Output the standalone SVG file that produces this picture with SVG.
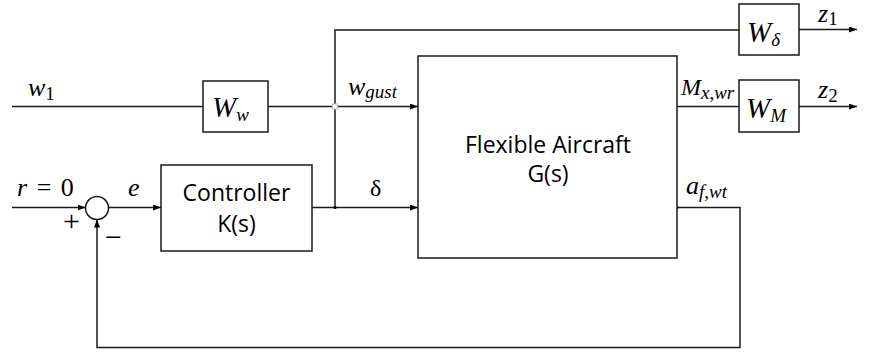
<svg xmlns="http://www.w3.org/2000/svg" width="875" height="352" viewBox="0 0 875 352">
<style>
.box{fill:#fff;stroke:#1a1a1a;stroke-width:1.5}
.ln{fill:none;stroke:#1a1a1a;stroke-width:1.5}
.lbl{font-family:"Open Sans","Liberation Sans",sans-serif;font-size:23px;fill:#000;text-anchor:middle}
.m{font-family:"Liberation Serif","DejaVu Serif",serif;font-style:italic;font-size:26px;fill:#000}
.up{font-style:normal}
.sub{font-size:19px}
.bw{font-size:29px}
</style>
<defs>
<marker id="arr" markerUnits="userSpaceOnUse" markerWidth="8" markerHeight="6" refX="8" refY="3" orient="auto">
<path d="M0,0 L8,3 L0,6 Z" fill="#000"/>
</marker>
</defs>
<rect width="875" height="352" fill="#fff"/>
<g id="connectors">
<path class="ln" d="M12,106.5 H203"/>
<path class="ln" d="M268,106.5 H418" marker-end="url(#arr)"/>
<path class="ln" d="M335,207.5 V30 H739"/>
<path class="ln" d="M12,207.5 H85.5" marker-end="url(#arr)"/>
<path class="ln" d="M108.5,207.5 H161" marker-end="url(#arr)"/>
<path class="ln" d="M312,207.5 H418" marker-end="url(#arr)"/>
<path class="ln" d="M677,106.5 H739"/>
<path class="ln" d="M799,29.5 H857" marker-end="url(#arr)"/>
<path class="ln" d="M799,106.5 H857" marker-end="url(#arr)"/>
<path class="ln" d="M677,207.5 H740 V347.5 H97 V219.5" marker-end="url(#arr)"/>
<rect x="332.5" y="104" width="5" height="5" fill="#fff" stroke="#bbb" stroke-width="1"/>
<circle cx="335" cy="207.5" r="1.6" fill="#000"/>
<circle cx="677" cy="207.5" r="1.6" fill="#000"/>
</g>
<g id="sum">
<circle cx="97" cy="208" r="11.5" class="box"/>
<text x="71.5" y="230.5" class="m up" style="font-size:30px" text-anchor="middle">+</text>
<text x="113.5" y="247" class="m up" style="font-size:30px" text-anchor="middle">−</text>
</g>
<g id="Ww">
<rect class="box" x="203" y="81" width="65" height="51"/>
<text class="m bw" x="212" y="117">W<tspan class="sub" font-size="20" dy="4">w</tspan></text>
</g>
<g id="controller">
<rect class="box" x="161" y="165" width="151" height="86"/>
<text class="lbl" x="236.5" y="201">Controller</text>
<text class="lbl" x="236.5" y="232">K(s)</text>
</g>
<g id="aircraft">
<rect class="box" x="418" y="56" width="259" height="202"/>
<text class="lbl" x="548" y="153">Flexible Aircraft</text>
<text class="lbl" x="548" y="182">G(s)</text>
</g>
<g id="Wd">
<rect class="box" x="739" y="4" width="60" height="51"/>
<text class="m bw" x="747" y="42">W<tspan class="sub" font-size="20" dy="4">δ</tspan></text>
</g>
<g id="WM">
<rect class="box" x="739" y="80" width="60" height="52"/>
<text class="m bw" x="746" y="118">W<tspan class="sub" font-size="20" dy="4">M</tspan></text>
</g>
<g id="labels">
<text class="m" x="28" y="96">w<tspan class="up sub" dy="4">1</tspan></text>
<text class="m" x="348" y="95">w<tspan class="sub" dy="3">gust</tspan></text>
<text class="m up" x="370" y="196" style="font-size:24px">δ</text>
<text class="m" x="17" y="196" word-spacing="3"><tspan>r</tspan><tspan class="up"> = 0</tspan></text>
<text class="m" x="128" y="196">e</text>
<text class="m" x="681" y="95" style="font-size:24px">M<tspan class="sub" dy="4">x,wr</tspan></text>
<text class="m" x="818" y="22">z<tspan class="up sub" dy="3">1</tspan></text>
<text class="m" x="818" y="98">z<tspan class="up sub" dy="4">2</tspan></text>
<text class="m" x="686" y="194">a<tspan class="sub" dy="4">f,wt</tspan></text>
</g>
</svg>
